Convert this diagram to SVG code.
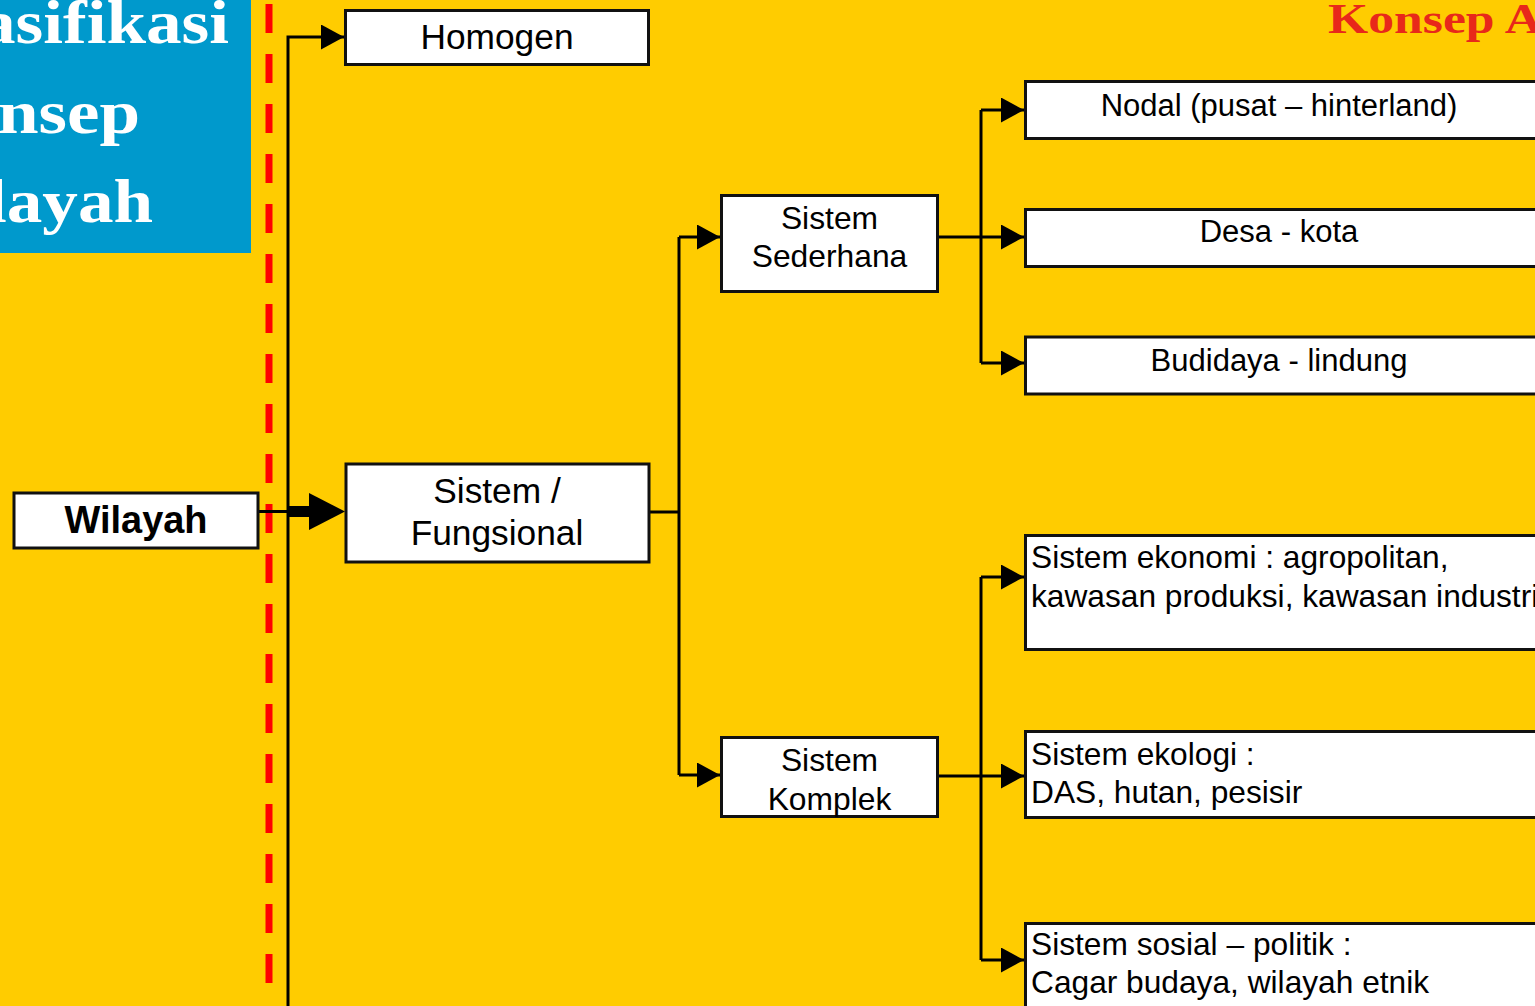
<svg xmlns="http://www.w3.org/2000/svg" width="1535" height="1006" viewBox="0 0 1535 1006">
<defs>
<style>
.box{fill:#ffffff;stroke:#111111;stroke-width:3}
.t{font-family:"Liberation Sans",Arial,sans-serif;font-size:31px;fill:#000000}
.l{font-size:31.7px}
.m{font-size:31.8px}
.big{font-size:35.3px}
.c{text-anchor:middle}
.conn{fill:none;stroke:#000000;stroke-width:3}
.title{font-family:"Liberation Serif","Times New Roman",serif;font-weight:bold;fill:#ffffff;font-size:62px}
</style>
<marker id="arr" markerUnits="userSpaceOnUse" markerWidth="24" markerHeight="26" refX="23" refY="12.5" orient="auto" viewBox="0 0 24 26">
<path d="M0,0 L23,12.5 L0,25 z" fill="#000000"/>
</marker>
</defs>
<rect x="0" y="0" width="1535" height="1006" fill="#FFCC00"/>
<g id="title-left">
<rect x="0" y="0" width="251" height="253" fill="#0099CC"/>
<text class="title" x="-20" y="43" textLength="249" lengthAdjust="spacingAndGlyphs">asifikasi</text>
<text class="title" x="-2" y="133" textLength="142" lengthAdjust="spacingAndGlyphs">nsep</text>
<text class="title" x="-13" y="222" textLength="166" lengthAdjust="spacingAndGlyphs">layah</text>
</g>
<g id="title-right">
<text x="1328" y="33" font-family="'Liberation Serif','Times New Roman',serif" font-weight="bold" font-size="43" fill="#E8281A" textLength="214" lengthAdjust="spacingAndGlyphs">Konsep A</text>
</g>
<line id="divider" x1="269" y1="4" x2="269" y2="992" stroke="#FF0000" stroke-width="7" stroke-dasharray="29 21"/>
<g id="connectors">
<path class="conn" d="M288,1006 V37 H344" marker-end="url(#arr)"/>
<line x1="259" y1="511.5" x2="290" y2="511.5" stroke="#000000" stroke-width="3"/>
<rect x="288" y="506" width="23" height="11" fill="#000000"/>
<polygon points="309,493 345,511.5 309,530" fill="#000000"/>
<path class="conn" d="M650,512 H679"/>
<path class="conn" d="M679,237 V775"/>
<path class="conn" d="M679,237 H720" marker-end="url(#arr)"/>
<path class="conn" d="M679,775 H720" marker-end="url(#arr)"/>
<path class="conn" d="M938,237 H1024" marker-end="url(#arr)"/>
<path class="conn" d="M981,110 V363"/>
<path class="conn" d="M981,110 H1024" marker-end="url(#arr)"/>
<path class="conn" d="M981,363 H1024" marker-end="url(#arr)"/>
<path class="conn" d="M938,776 H1024" marker-end="url(#arr)"/>
<path class="conn" d="M981,577 V960"/>
<path class="conn" d="M981,577 H1024" marker-end="url(#arr)"/>
<path class="conn" d="M981,960 H1024" marker-end="url(#arr)"/>
</g>
<g id="homogen">
<rect class="box" x="345.5" y="10.5" width="303" height="54"/>
<text class="t big c" x="497" y="49">Homogen</text>
</g>
<g id="wilayah">
<rect class="box" x="14" y="493" width="244" height="55"/>
<text class="t c" x="136" y="533" style="font-size:38px;font-weight:bold" textLength="143" lengthAdjust="spacingAndGlyphs">Wilayah</text>
</g>
<g id="fungsional">
<rect class="box" x="346" y="464" width="303" height="98"/>
<text class="t big c" x="497" y="503">Sistem /</text>
<text class="t big c" x="497" y="545">Fungsional</text>
</g>
<g id="sederhana">
<rect class="box" x="721.5" y="195.5" width="216" height="96"/>
<text class="t m c" x="829.5" y="229">Sistem</text>
<text class="t m c" x="829.5" y="267">Sederhana</text>
</g>
<g id="komplek">
<rect class="box" x="721.5" y="737.5" width="216" height="79"/>
<text class="t m c" x="829.5" y="771">Sistem</text>
<text class="t m c" x="829.5" y="810">Komplek</text>
</g>
<g id="nodal">
<rect class="box" x="1025.5" y="81.5" width="520" height="57"/>
<text class="t c" x="1279" y="116">Nodal (pusat – hinterland)</text>
</g>
<g id="desa-kota">
<rect class="box" x="1025.5" y="209.5" width="520" height="57"/>
<text class="t c" x="1279" y="242">Desa - kota</text>
</g>
<g id="budidaya">
<rect class="box" x="1025.5" y="337" width="520" height="57"/>
<text class="t c" x="1279" y="371">Budidaya - lindung</text>
</g>
<g id="ekonomi">
<rect class="box" x="1025.5" y="535.5" width="520" height="114"/>
<text class="t l" x="1031" y="568">Sistem ekonomi : agropolitan,</text>
<text class="t l" x="1031" y="607">kawasan produksi, kawasan industri</text>
</g>
<g id="ekologi">
<rect class="box" x="1025.5" y="731.5" width="520" height="86"/>
<text class="t l" x="1031" y="765">Sistem ekologi :</text>
<text class="t l" x="1031" y="803">DAS, hutan, pesisir</text>
</g>
<g id="sosial">
<rect class="box" x="1025.5" y="923.5" width="520" height="100"/>
<text class="t l" x="1031" y="955">Sistem sosial – politik :</text>
<text class="t l" x="1031" y="993">Cagar budaya, wilayah etnik</text>
</g>
</svg>
